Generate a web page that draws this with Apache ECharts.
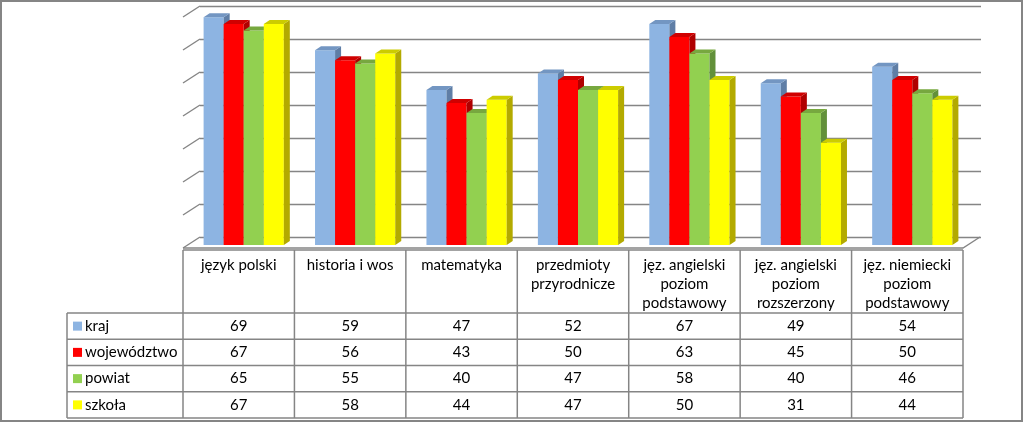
<!DOCTYPE html>
<html>
<head>
<meta charset="utf-8">
<script src="https://cdn.jsdelivr.net/npm/echarts@6/dist/echarts.min.js"></script>
<style>
  html, body { margin: 0; padding: 0; background: #fff; }
  #chart { width: 1024px; height: 423px; }
</style>
</head>
<body>
<div id="chart"></div>
<script>
// data
const categories = ['język polski', 'historia i wos', 'matematyka', 'przedmioty\nprzyrodnicze',
  'jęz. angielski\npoziom\npodstawowy', 'jęz. angielski\npoziom\nrozszerzony', 'jęz. niemiecki\npoziom\npodstawowy'];
const seriesNames = ['kraj', 'województwo', 'powiat', 'szkoła'];
const kraj = [69, 59, 47, 52, 67, 49, 54];
const wojewodztwo = [67, 56, 43, 50, 63, 45, 50];
const powiat = [65, 55, 40, 47, 58, 40, 46];
const szkola = [67, 58, 44, 47, 50, 31, 44];
const yTicks = [0, 10, 20, 30, 40, 50, 60, 70];

const seriesValues = [kraj, wojewodztwo, powiat, szkola];
const faceColors = ['#8db4e2', '#ff0000', '#92d050', '#ffff00'];
const sideColors = ['#5f7ea6', '#b00000', '#62903a', '#b3aa00'];
const topColors = ['#7396c2', '#d00000', '#77a83f', '#cccc00'];

const FONT = 'Lato, "Open Sans", sans-serif';
const FONT_SIZE = 15;
const GRID_COLOR = '#858585';

// layout of the pseudo-3d box and the data table
const frontLeft = 183, frontRight = 963, floorY = 248;
const depthX = 17, depthY = 11;
const barShift = 5;
const headTop = 250, rowTop = 313, tableBottom = 418, legendLeft = 67;
const colW = (frontRight - frontLeft) / categories.length;
const rowH = (tableBottom - rowTop) / seriesNames.length;

function bar3d(idx) {
  return function (params, api) {
    const cat = api.value(0);
    const val = api.value(1);
    const top = api.coord([cat, val]);
    const base = api.coord([cat, 0]);
    const band = api.size([1, 0])[0];
    const w = band * 0.18;
    const x0 = top[0] + (idx - 2) * w;
    const x1 = x0 + w;
    const dx = 6, dy = 4;
    return {
      type: 'group',
      children: [
        { type: 'rect', shape: { x: x0, y: top[1], width: w, height: base[1] - top[1] },
          style: { fill: faceColors[idx] } },
        { type: 'polygon', shape: { points: [[x1, top[1]], [x1 + dx, top[1] - dy], [x1 + dx, base[1] - dy], [x1, base[1]]] },
          style: { fill: sideColors[idx] } },
        { type: 'polygon', shape: { points: [[x0, top[1]], [x0 + dx, top[1] - dy], [x1 + dx, top[1] - dy], [x1, top[1]]] },
          style: { fill: topColors[idx] } }
      ]
    };
  };
}

function sideWall(params, api) {
  const cs = params.coordSys;
  const p = api.coord([0, api.value(1)]);
  return {
    type: 'line',
    shape: { x1: cs.x, y1: p[1], x2: cs.x - depthX, y2: p[1] + depthY },
    style: { stroke: GRID_COLOR, lineWidth: 1.4 }
  };
}

function buildTable() {
  const els = [];
  const line = (x1, y1, x2, y2) => els.push({
    type: 'line', shape: { x1, y1, x2, y2 }, style: { stroke: GRID_COLOR, lineWidth: 1.5 }, z: 10
  });
  // floor of the 3d box
  els.push({
    type: 'polyline',
    shape: { points: [[frontLeft, floorY], [frontRight, floorY], [frontRight + depthX, floorY - depthY]] },
    style: { stroke: GRID_COLOR, lineWidth: 1.4, fill: null }, z: 10
  });
  line(frontLeft, headTop, frontRight, headTop);
  for (let r = 0; r <= seriesNames.length; r++) {
    line(legendLeft, rowTop + r * rowH, frontRight, rowTop + r * rowH);
  }
  line(legendLeft, rowTop, legendLeft, tableBottom);
  for (let c = 0; c <= categories.length; c++) {
    line(frontLeft + c * colW, headTop, frontLeft + c * colW, tableBottom);
  }
  categories.forEach((name, c) => {
    els.push({
      type: 'text', x: frontLeft + (c + 0.5) * colW, y: 256, z: 11,
      style: { text: name, fill: '#000', font: FONT_SIZE + 'px ' + FONT, align: 'center', verticalAlign: 'top', lineHeight: 19 }
    });
  });
  seriesNames.forEach((name, r) => {
    const cy = rowTop + (r + 0.5) * rowH;
    els.push({ type: 'rect', shape: { x: 73, y: cy - 4.5, width: 9, height: 9 }, style: { fill: faceColors[r] }, z: 11 });
    els.push({
      type: 'text', x: 85, y: cy, z: 11,
      style: { text: name, fill: '#000', font: FONT_SIZE + 'px ' + FONT, align: 'left', verticalAlign: 'middle' }
    });
    seriesValues[r].forEach((v, c) => {
      els.push({
        type: 'text', x: frontLeft + (c + 0.5) * colW, y: cy, z: 11,
        style: { text: String(v), fill: '#000', font: FONT_SIZE + 'px ' + FONT, align: 'center', verticalAlign: 'middle' }
      });
    });
  });
  // outer frame
  els.push({ type: 'rect', shape: { x: 1, y: 1, width: 1021, height: 420 },
    style: { fill: null, stroke: GRID_COLOR, lineWidth: 2 }, z: 12 });
  return els;
}

const chart = echarts.init(document.getElementById('chart'), null, { renderer: 'canvas' });

chart.setOption({
  backgroundColor: '#ffffff',
  animation: false,
  grid: [
    // plane of the bar fronts
    { left: frontLeft + barShift, width: frontRight - frontLeft, top: 245 - 231, height: 231 },
    // back wall
    { left: frontLeft + depthX, width: frontRight - frontLeft + 1, top: 6, height: 231 }
  ],
  xAxis: [
    { type: 'category', gridIndex: 0, data: categories, show: false },
    { type: 'category', gridIndex: 1, data: categories, show: false }
  ],
  yAxis: [
    { type: 'value', gridIndex: 0, min: 0, max: 70, interval: 10, show: false },
    { type: 'value', gridIndex: 1, min: 0, max: 70, interval: 10,
      axisLine: { show: false }, axisTick: { show: false }, axisLabel: { show: false },
      splitLine: { show: true, lineStyle: { color: GRID_COLOR, width: 1.4 } } }
  ],
  series: [
    {
      type: 'custom', xAxisIndex: 1, yAxisIndex: 1, silent: true,
      renderItem: sideWall,
      data: yTicks.map(v => [0, v])
    }
  ].concat(seriesValues.map((vals, i) => ({
    type: 'custom',
    name: seriesNames[i],
    xAxisIndex: 0, yAxisIndex: 0,
    renderItem: bar3d(i),
    data: vals.map((v, c) => [c, v])
  }))),
  graphic: buildTable()
});
</script>
</body>
</html>
